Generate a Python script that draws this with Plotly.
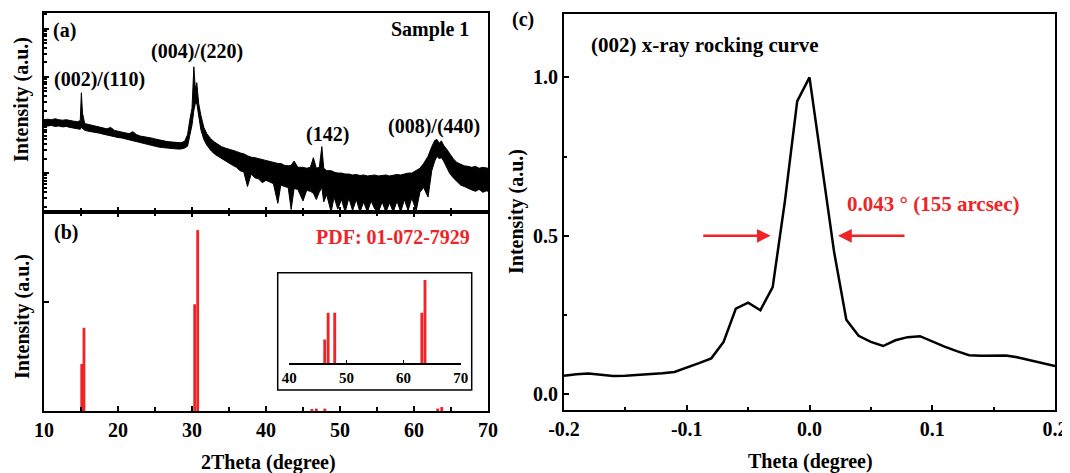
import numpy as np
import plotly.graph_objects as go

W, H = 1070, 473
PAGE_OFFSET = 8  # the page body margin shifts the figure by this much
RED = "#ee2427"
FONT = "Liberation Serif"

# (a) Sample 1 XRD scan, log10 intensity; noisy trace kept as its lower/upper envelope
xrd_2theta = [10.0, 10.5, 11.0, 11.5, 12.0, 12.5, 13.0, 13.5, 14.0, 14.5, 14.9, 15.05, 15.2, 15.5,
              16.0, 16.5, 17.0, 17.5, 18.0, 18.5, 19.0, 19.5, 20.0, 20.5, 21.0, 21.5, 22.0, 22.5,
              23.0, 23.5, 24.0, 24.5, 25.0, 25.5, 26.0, 26.5, 27.0, 27.5, 28.0, 28.5, 29.0, 29.4,
              29.7, 30.0, 30.25, 30.45, 30.65, 30.9, 31.2, 31.6, 32.0, 32.5, 33.0, 33.5, 34.0, 34.5,
              35.0, 35.5, 36.0, 36.5, 37.0, 37.5, 38.0, 38.5, 39.0, 39.5, 40.0, 40.5, 41.0, 41.6,
              42.0, 42.5, 43.0, 43.4, 43.8, 44.3, 45.0, 45.5, 46.0, 46.4, 46.8, 47.2, 47.55, 47.8,
              48.2, 48.8, 49.2, 49.7, 50.2, 50.7, 51.2, 51.7, 52.2, 52.7, 53.2, 53.7, 54.2, 54.7,
              55.2, 55.7, 56.2, 56.7, 57.2, 57.7, 58.2, 58.7, 59.2, 59.7, 60.3, 60.8, 61.3, 61.9,
              62.4, 62.8, 63.1, 63.4, 63.7, 64.0, 64.4, 64.8, 65.3, 65.8, 66.3, 66.8, 67.3, 67.8,
              68.3, 68.8, 69.3, 69.8, 70.0]
xrd_lower_log = [1.97, 1.98, 1.99, 1.97, 1.98, 1.96, 1.97, 1.95, 1.94, 1.93, 1.91, 1.95, 1.93, 1.89,
                 1.87, 1.86, 1.84, 1.83, 1.81, 1.79, 1.78, 1.76, 1.74, 1.73, 1.71, 1.70, 1.67, 1.66,
                 1.64, 1.61, 1.59, 1.58, 1.56, 1.54, 1.53, 1.52, 1.51, 1.50, 1.50, 1.50, 1.52, 1.56,
                 1.75, 2.00, 2.30, 2.45, 2.45, 2.15, 1.90, 1.70, 1.58, 1.48, 1.40, 1.35, 1.30, 1.25,
                 1.20, 1.16, 1.12, 1.05, 1.02, 0.72, 0.98, 0.90, 0.88, 0.80, 0.85, 0.82, 0.78, 0.37,
                 0.75, 0.72, 0.70, 0.24, 0.68, 0.66, 0.42, 0.64, 0.62, 0.58, 0.45, 0.60, 0.70, 0.40,
                 0.55, 0.19, 0.50, 0.25, 0.45, 0.19, 0.48, 0.22, 0.45, 0.19, 0.40, 0.19, 0.42, 0.25,
                 0.19, 0.40, 0.19, 0.38, 0.19, 0.42, 0.19, 0.45, 0.22, 0.48, 0.22, 0.60, 0.70, 0.50,
                 1.05, 1.25, 1.35, 1.30, 1.32, 1.25, 1.12, 1.00, 0.90, 0.82, 0.75, 0.72, 0.68, 0.65,
                 0.62, 0.66, 0.60, 0.63, 0.62]
xrd_upper_log = [2.11, 2.12, 2.11, 2.13, 2.11, 2.10, 2.11, 2.09, 2.08, 2.07, 2.09, 2.67, 2.25, 2.03,
                 2.01, 1.99, 1.97, 1.96, 1.93, 1.92, 1.95, 1.89, 1.87, 1.85, 1.84, 1.82, 1.86, 1.80,
                 1.77, 1.76, 1.75, 1.73, 1.71, 1.69, 1.68, 1.66, 1.65, 1.64, 1.63, 1.63, 1.66, 1.80,
                 2.10, 2.35, 3.21, 2.75, 2.88, 2.45, 2.20, 1.95, 1.82, 1.72, 1.65, 1.60, 1.55, 1.52,
                 1.50, 1.47, 1.45, 1.42, 1.40, 1.36, 1.33, 1.32, 1.30, 1.28, 1.26, 1.24, 1.22, 1.20,
                 1.20, 1.16, 1.15, 1.16, 1.25, 1.12, 1.12, 1.10, 1.12, 1.32, 1.10, 1.12, 1.55, 1.10,
                 1.05, 1.05, 1.02, 1.00, 1.00, 0.98, 0.98, 0.96, 0.97, 0.95, 0.96, 0.94, 0.95, 0.96,
                 0.94, 0.95, 0.96, 0.94, 0.95, 0.97, 0.96, 0.98, 1.00, 1.00, 1.05, 1.10, 1.20, 1.35,
                 1.55, 1.68, 1.70, 1.62, 1.67, 1.58, 1.50, 1.40, 1.30, 1.22, 1.18, 1.15, 1.14, 1.12,
                 1.14, 1.10, 1.12, 1.10, 1.10]
assert len(xrd_2theta) == len(xrd_lower_log) == len(xrd_upper_log)

peak_labels = ["(002)/(110)", "(004)/(220)", "(142)", "(008)/(440)"]

# (b) PDF 01-072-7929 stick pattern, relative intensity
pdf_2theta = [15.1, 15.4, 30.36, 30.77, 46.2, 46.8, 47.95, 63.2, 63.75]
pdf_intensity = [26, 46, 59, 100, 0.62, 1.33, 1.33, 1.33, 2.2]

# (c) (002) rocking curve, normalised
rc_theta = [-0.20, -0.19, -0.18, -0.17, -0.16, -0.15, -0.14, -0.13, -0.12, -0.11, -0.10,
            -0.09, -0.08, -0.07, -0.06, -0.05, -0.04, -0.03, -0.02, -0.01, 0.00,
            0.01, 0.02, 0.03, 0.04, 0.05, 0.06, 0.07, 0.08, 0.09, 0.10,
            0.11, 0.12, 0.13, 0.14, 0.15, 0.16, 0.17, 0.18, 0.19, 0.20]
rc_intensity = [0.058, 0.063, 0.065, 0.062, 0.057, 0.058, 0.060, 0.062, 0.066, 0.070, 0.083,
                0.098, 0.113, 0.165, 0.270, 0.289, 0.265, 0.338, 0.610, 0.925, 1.000,
                0.717, 0.450, 0.235, 0.184, 0.165, 0.152, 0.170, 0.180, 0.183, 0.166,
                0.150, 0.136, 0.123, 0.121, 0.121, 0.122, 0.116, 0.107, 0.098, 0.089]
fwhm_text = "0.043 ° (155 arcsec)"


def px(x):
    return (x - PAGE_OFFSET) / W


def py(y):
    return 1 - (y - PAGE_OFFSET) / H


def font(size=20, color="black"):
    return dict(family=FONT, size=size, color=color, weight="bold")


def frame(**kw):
    base = dict(showline=True, linewidth=2, linecolor="black", mirror=True,
                showgrid=False, zeroline=False, ticks="inside", tickcolor="black",
                tickwidth=1.5, ticklen=5, tickfont=font(), automargin=False)
    base.update(kw)
    return base


fig = go.Figure()

fig.add_trace(go.Scatter(x=xrd_2theta, y=xrd_lower_log, mode="lines",
                         line=dict(color="black", width=1), xaxis="x", yaxis="y"))
fig.add_trace(go.Scatter(x=xrd_2theta, y=xrd_upper_log, mode="lines", fill="tonexty",
                         fillcolor="black", line=dict(color="black", width=1),
                         xaxis="x", yaxis="y"))

fig.add_trace(go.Bar(x=pdf_2theta, y=pdf_intensity, width=0.38, marker_color=RED,
                     marker_line_width=0, xaxis="x2", yaxis="y2"))
fig.add_trace(go.Bar(x=pdf_2theta, y=pdf_intensity, width=0.5, marker_color=RED,
                     marker_line_width=0, xaxis="x4", yaxis="y4"))

fig.add_trace(go.Scatter(x=rc_theta, y=rc_intensity, mode="lines",
                         line=dict(color="black", width=2.5), xaxis="x3", yaxis="y3"))

log_minor = [np.log10(k) + d for d in range(0, 5) for k in range(2, 10)]
log_minor = [v for v in log_minor if 0.19 < v < 4.33]

fig.update_layout(
    template="none",
    width=W, height=H,
    margin=dict(l=0, r=0, t=0, b=0, pad=0, autoexpand=False),
    paper_bgcolor="white", plot_bgcolor="white",
    showlegend=False, barmode="overlay",
    xaxis=frame(domain=[px(44), px(488)], anchor="y", range=[10, 70], dtick=10, tick0=10,
                showticklabels=False, minor=dict(dtick=5, ticks="inside", ticklen=4)),
    yaxis=frame(domain=[py(212), py(13)], anchor="x", range=[0.19, 4.33],
                tickvals=[1, 2, 3, 4], showticklabels=False,
                minor=dict(tickvals=log_minor, ticks="inside", ticklen=3)),
    xaxis2=frame(domain=[px(44), px(488)], anchor="y2", range=[10, 70], dtick=10, tick0=10,
                 mirror="ticks", minor=dict(dtick=5, ticks="inside", ticklen=4)),
    yaxis2=frame(domain=[py(411), py(212)], anchor="x2", range=[0, 110],
                 tickvals=[60], showticklabels=False),
    xaxis3=frame(domain=[px(564), px(1055)], anchor="y3", range=[-0.2, 0.2],
                 tickvals=[-0.2, -0.1, 0, 0.1, 0.2],
                 ticktext=["-0.2", "-0.1", "0.0", "0.1", "0.2"],
                 minor=dict(tickvals=[-0.15, -0.05, 0.05, 0.15], ticks="inside", ticklen=3)),
    yaxis3=frame(domain=[py(410), py(14)], anchor="x3", range=[-0.05, 1.2],
                 tickvals=[0, 0.5, 1], ticktext=["0.0", "0.5", "1.0"],
                 minor=dict(tickvals=[0.25, 0.75], ticks="inside", ticklen=3)),
    xaxis4=dict(domain=[px(289.3), px(460.7)], anchor="y4", range=[40, 70],
                tickvals=[40, 50, 60, 70], showline=True, linewidth=1.5, linecolor="black",
                ticks="inside", ticklen=3, tickcolor="black", showgrid=False, zeroline=False,
                tickfont=font(15), automargin=False),
    yaxis4=dict(domain=[py(363), py(272.7)], anchor="x4", range=[0, 2.39], visible=False),
)

# inset frame
fig.add_shape(type="rect", xref="paper", yref="paper",
              x0=px(277.7), x1=px(471.7), y0=py(390), y1=py(272.7),
              line=dict(color="black", width=1.5))


def note(text, x, y, size=20, color="black", xanchor="center", angle=0):
    fig.add_annotation(text=text, x=px(x), y=py(y), xref="paper", yref="paper",
                       showarrow=False, xanchor=xanchor, yanchor="middle",
                       textangle=angle, font=font(size, color))


note("(a)", 51, 31, xanchor="left")
note("Sample 1", 471, 30, xanchor="right")
for label, (lx, ly) in zip(peak_labels, [(99.5, 80), (196.5, 52), (327.5, 135), (434, 127)]):
    note(label, lx, ly)
note("(b)", 52, 232, xanchor="left")
note("PDF: 01-072-7929", 472, 237, color=RED, xanchor="right")
note("2Theta (degree)", 268, 462)
note("Intensity (a.u.)", 22, 100, angle=-90)
note("Intensity (a.u.)", 22, 317, angle=-90)

note("(c)", 510, 20, xanchor="left")
note("(002) x-ray rocking curve", 589, 45, size=21, xanchor="left")
note(fwhm_text, 845, 204, size=21, color=RED, xanchor="left")
note("Theta (degree)", 810, 461)
note("Intensity (a.u.)", 516, 212, angle=-90)

for tip, tail in [(-0.0316, -0.0878), (0.0232, 0.0786)]:
    fig.add_annotation(x=tip, y=0.5, ax=tail, ay=0.5, xref="x3", yref="y3",
                       axref="x3", ayref="y3", text="", showarrow=True,
                       arrowhead=2, arrowsize=1.1, arrowwidth=2.5, arrowcolor=RED)

fig.write_html("out.html")
